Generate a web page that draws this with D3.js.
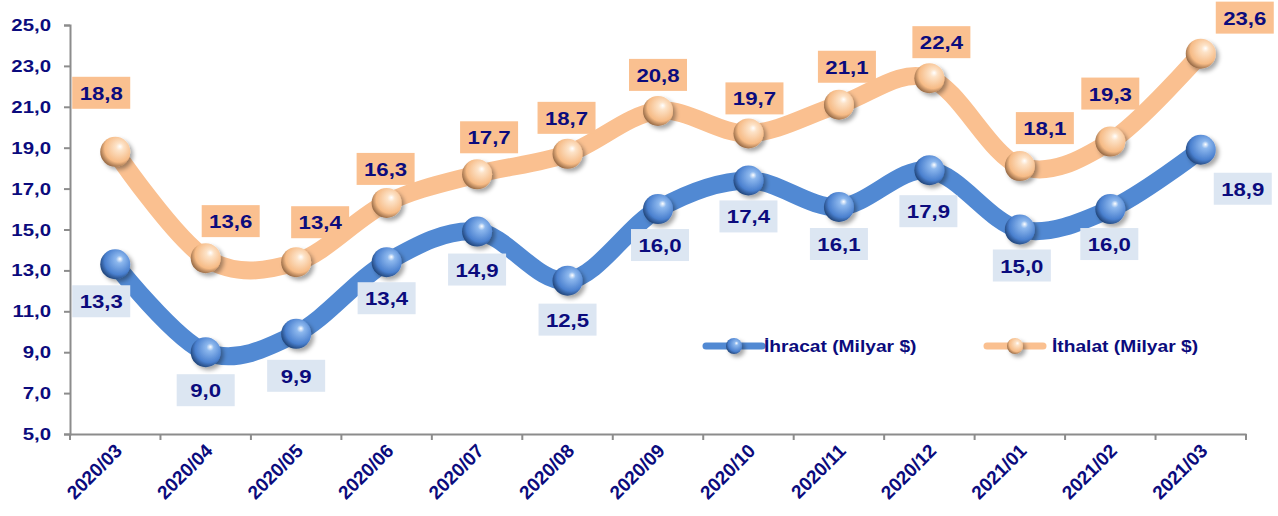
<!DOCTYPE html>
<html><head><meta charset="utf-8">
<script src="https://cdn.jsdelivr.net/npm/d3@7"></script>
<style>body{margin:0;background:#fff}svg{display:block}</style>
</head><body><svg id="c" width="1278" height="516"></svg>
<script>
const categories = ["2020/03","2020/04","2020/05","2020/06","2020/07","2020/08","2020/09","2020/10","2020/11","2020/12","2021/01","2021/02","2021/03"];
const ihracat = [13.3,9.0,9.9,13.4,14.9,12.5,16.0,17.4,16.1,17.9,15.0,16.0,18.9];
const ithalat = [18.8,13.6,13.4,16.3,17.7,18.7,20.8,19.7,21.1,22.4,18.1,19.3,23.6];
const yTicks = [5,7,9,11,13,15,17,19,21,23,25];
const seriesNames = ["İhracat (Milyar $)","İthalat (Milyar $)"];
// label placement offsets (layout, px) relative to each point
const ihrLabelOff = [[-14,37],[0,38],[0,42],[0,36],[0,38],[0,39],[2,36],[0,36],[0,37],[-1,41],[2,36],[-1,35],[42,39]];
const ithLabelOff = [[-14,-59],[25,-37],[24,-40],[-1,-34],[12,-37],[-1,-36],[0,-36],[6,-35],[8,-38],[12,-36],[25,-38],[0,-48],[44,-36]];

const svg = d3.select("#c");
const navy = "#0b0b7d";
const FONT = "Liberation Sans, Arial, sans-serif";
const SX = 1.2; // horizontal stretch of the reference text
const x = d3.scaleBand().domain(categories).range([70,1246]);
const y = d3.scaleLinear().domain([5,25]).range([434,25]);
const cx = d => x(d) + x.bandwidth()/2;
const fmt = v => d3.format(".1f")(v).replace(".",",");

function stext(g, tx, ty, str, size, anchor, sx){
  return g.append("text")
    .attr("transform", `translate(${tx},${ty}) scale(${sx==null?SX:sx},1)`)
    .attr("text-anchor", anchor).attr("fill", navy)
    .attr("font-family", FONT).attr("font-weight","bold").attr("font-size", size)
    .text(str);
}

const defs = svg.append("defs");
function grad(id, c0, c1, c2){
  const g = defs.append("radialGradient").attr("id",id).attr("cx","60%").attr("cy","40%").attr("r","62%").attr("fx","66%").attr("fy","32%");
  g.append("stop").attr("offset","0%").attr("stop-color","#ffffff");
  g.append("stop").attr("offset","20%").attr("stop-color",c0);
  g.append("stop").attr("offset","75%").attr("stop-color",c1);
  g.append("stop").attr("offset","100%").attr("stop-color",c2);
}
grad("gb","#8db8ee","#4a80cf","#24497f");
grad("go","#fde3c8","#f6bb86","#9c6f4a");
const f = defs.append("filter").attr("id","sh").attr("x","-50%").attr("y","-50%").attr("width","200%").attr("height","200%");
f.append("feDropShadow").attr("dx",3).attr("dy",3).attr("stdDeviation",2).attr("flood-color","#000").attr("flood-opacity",0.35);

// axes
const yAxis = svg.append("g").attr("transform","translate(70,0)")
  .call(d3.axisLeft(y).tickValues(yTicks).tickSize(6).tickFormat(""));
yAxis.select(".domain").attr("stroke","#8c8c8c").attr("stroke-width",2);
yAxis.selectAll(".tick line").attr("stroke","#8c8c8c").attr("stroke-width",2);
const yl = svg.append("g");
yTicks.forEach(t => stext(yl, 51, y(t)+6, fmt(t), 17, "end"));

const xAxis = svg.append("g").attr("transform","translate(0,434)")
  .call(d3.axisBottom(x).tickSize(0).tickFormat(""));
xAxis.select(".domain").attr("stroke","#8c8c8c").attr("stroke-width",2);
const bounds = categories.map(c => x(c)).concat([x.range()[1]]);
xAxis.selectAll(".bt").data(bounds).enter().append("line").attr("class","bt")
  .attr("x1",d=>d).attr("x2",d=>d).attr("y1",0).attr("y2",6).attr("stroke","#8c8c8c").attr("stroke-width",2);
svg.append("g").selectAll("text").data(categories).enter().append("text")
  .attr("transform", d => `translate(${cx(d)+8},${452}) rotate(-45)`)
  .attr("text-anchor","end").attr("fill",navy)
  .attr("font-family",FONT).attr("font-weight","bold").attr("font-size",19)
  .text(d=>d);

const line = d3.line().x((d,i)=>cx(categories[i])).y(d=>y(d)).curve(d3.curveCardinal.tension(0));
svg.append("path").datum(ithalat).attr("d",line).attr("fill","none").attr("stroke","#fac090").attr("stroke-width",18).attr("stroke-linecap","round");
svg.append("path").datum(ihracat).attr("d",line).attr("fill","none").attr("stroke","#5189d3").attr("stroke-width",18).attr("stroke-linecap","round");

function markers(data, g){
  svg.append("g").selectAll("circle").data(data).enter().append("circle")
    .attr("cx",(d,i)=>cx(categories[i])).attr("cy",d=>y(d)).attr("r",15)
    .attr("fill",`url(#${g})`).attr("filter","url(#sh)");
}
markers(ithalat,"go");
markers(ihracat,"gb");

function labels(data, offs, fill){
  const g = svg.append("g");
  data.forEach((v,i)=>{
    const lx = cx(categories[i]) + offs[i][0], ly = y(v) + offs[i][1];
    g.append("rect").attr("x",lx-29).attr("y",ly-16).attr("width",58).attr("height",32).attr("fill",fill);
    stext(g, lx, ly+7, fmt(v), 18.5, "middle");
  });
}
labels(ithalat, ithLabelOff, "#fac090");
labels(ihracat, ihrLabelOff, "#dce6f2");

// legend
const leg = [{x:706, grad:"gb", col:"#5189d3", name:seriesNames[0]},{x:987, grad:"go", col:"#fac090", name:seriesNames[1]}];
leg.forEach(l=>{
  const g = svg.append("g");
  g.append("line").attr("x1",l.x).attr("x2",l.x+56).attr("y1",346).attr("y2",346).attr("stroke",l.col).attr("stroke-width",7).attr("stroke-linecap","round");
  g.append("circle").attr("cx",l.x+28).attr("cy",346).attr("r",8).attr("fill",`url(#${l.grad})`).attr("filter","url(#sh)");
  stext(g, l.x+58+(l.x>900?7:0), 352, l.name, 16, "start");
});
</script></body></html>
